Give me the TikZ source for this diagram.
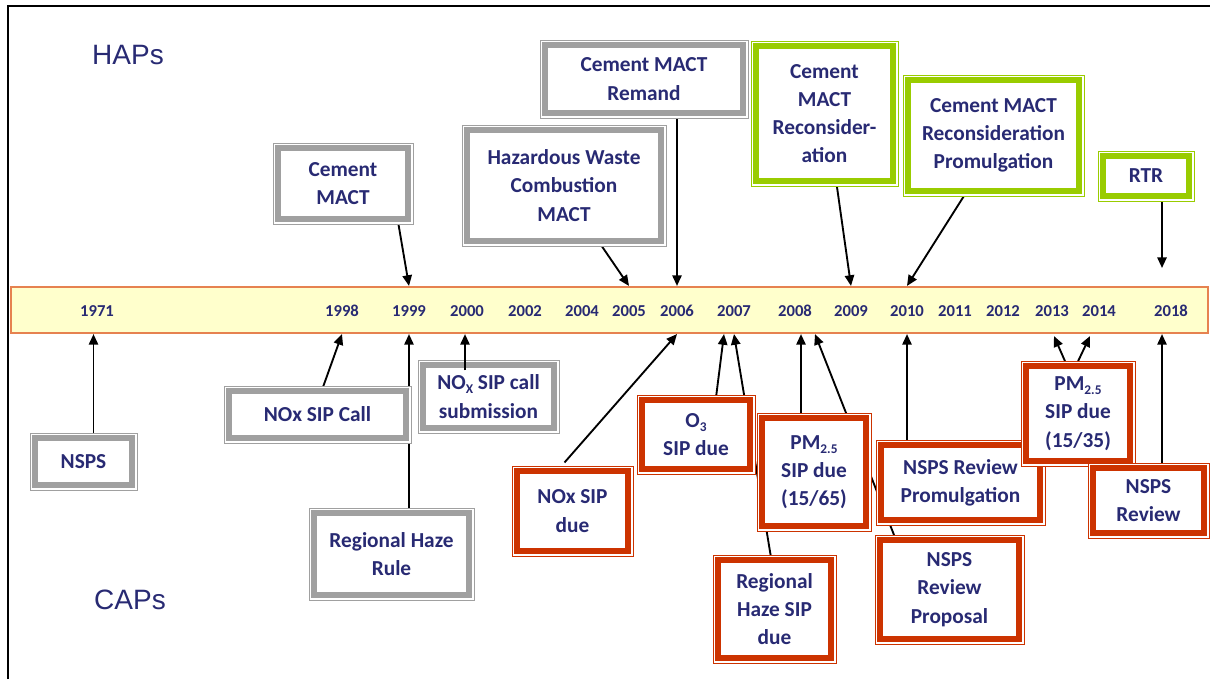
\documentclass[tikz,border=0pt]{standalone}
\usepackage{fontspec}
\setmainfont{Carlito}
\newfontfamily\arialf{Liberation Sans}
\usetikzlibrary{arrows.meta,calc}
\definecolor{navy}{RGB}{40,42,115}
\definecolor{gbox}{RGB}{160,160,160}
\definecolor{lbox}{RGB}{153,204,0}
\definecolor{rbox}{RGB}{204,51,0}
\definecolor{barfill}{RGB}{255,255,204}
\definecolor{barline}{RGB}{230,130,80}
\pgfdeclarelayer{barlayer}
\pgfdeclarelayer{connlayer}
\pgfdeclarelayer{toplayer}
\pgfsetlayers{barlayer,connlayer,main,toplayer}
\newcommand\mysub[1]{\raisebox{-0.4ex}{\fontsize{10}{10}\selectfont #1}}
\tikzset{
  boxnode/.style={line width=3.8pt, fill=white, inner sep=0pt, align=center, text=navy,
    font=\bfseries\fontsize{16}{21.2}\selectfont},
  outerline/.style={line width=0.7pt, fill=white},
  year/.style={text=navy, font=\bfseries\fontsize{12.5}{14}\selectfont},
  conn/.style={line width=1.4pt, -{Triangle[length=8pt,width=7pt]}},
  group/.style={text=navy, font=\arialf\fontsize{21}{25}\selectfont},
}
% name, colour, x1, y1, x2, y2, text
\newcommand\tlbox[7]{%
  \draw[outerline, draw=#2] (#3,#4) rectangle (#5,#6);
  \node[boxnode, draw=#2, minimum width={(#5-#3-10)*0.75pt}, minimum height={(#6-#4-10)*0.75pt}]
    (#1) at ({(#3+#5)/2},{(#4+#6)/2}) {#7};
}
\begin{document}
\begin{tikzpicture}[x=0.75pt, y=-0.75pt]
\useasboundingbox (0,0) rectangle (1210,679);
% frame
\draw[line width=1.5pt, black] (8,679) -- (8,6) -- (1210,6);
% group labels
\node[group] (haps) at (128,55) {HAPs};
\node[group] (caps) at (130,600) {CAPs};
% timeline bar
\begin{pgfonlayer}{barlayer}
\node[draw=barline, fill=barfill, line width=1.6pt, minimum width={1197*0.75pt}, minimum height={46*0.75pt}, inner sep=0pt] (bar) at (609.5,310) {};
\end{pgfonlayer}
\foreach \yr/\xx in {1971/97,1998/342,1999/409,2000/467,2002/525,2004/582,2005/629,2006/677,2007/734,2008/795,2009/851,2010/907,2011/955,2012/1003,2013/1052,2014/1099,2018/1171}
  \node[year] (y\yr) at (\xx,311) {\yr};
% HAP boxes
\tlbox{cm}{gbox}{273}{143}{413}{224}{Cement\\MACT}
\tlbox{hw}{gbox}{462}{125}{666}{246}{Hazardous Waste\\Combustion\\MACT}
\tlbox{rem}{gbox}{540}{40}{748}{118}{Cement MACT\\Remand}
\tlbox{recon}{lbox}{751}{41}{898}{186}{Cement\\MACT\\Reconsider-\\ation}
\tlbox{prom}{lbox}{903}{75}{1084}{196}{Cement MACT\\Reconsideration\\Promulgation}
\tlbox{rtr}{lbox}{1098}{151}{1194}{201}{RTR}
% CAP boxes
\tlbox{nsps}{gbox}{30}{433}{137}{490}{NSPS}
\tlbox{noxcall}{gbox}{224}{386}{411}{443}{NOx SIP Call}
\tlbox{noxsub}{gbox}{418}{360}{559}{433}{NO\mysub{X} SIP call\\submission}
\tlbox{rhr}{gbox}{309}{508}{474}{600}{Regional Haze\\Rule}
\tlbox{noxdue}{rbox}{512}{466}{633}{556}{NOx SIP\\due}
\tlbox{o3}{rbox}{637}{395}{755}{474}{O\mysub{3}\\SIP due}
\tlbox{pm65}{rbox}{757}{413}{871}{531}{PM\mysub{2.5}\\SIP due\\(15/65)}
\tlbox{rhsip}{rbox}{713}{555}{836}{663}{Regional\\Haze SIP\\due}
\tlbox{prom2}{rbox}{876}{440}{1045}{525}{NSPS Review\\Promulgation}
\tlbox{pm35}{rbox}{1021}{361}{1135}{466}{PM\mysub{2.5}\\SIP due\\(15/35)}
\tlbox{nspsrev}{rbox}{1088}{463}{1209}{538}{NSPS\\Review}
\tlbox{nspsprop}{rbox}{875}{535}{1024}{644}{NSPS\\Review\\Proposal}
% connectors (behind the boxes)
\coordinate (rtrend) at (1162,268);
\coordinate (nspsx) at ($(nsps.north)+(10,0)$);
\coordinate (pmx) at ($(pm65.north)+(-13,0)$);
\coordinate (pmy) at ($(y2008 |- bar.south)+(20,0)$);
\coordinate (o3x) at ($(y2007 |- bar.south)+(-10,0)$);
\begin{pgfonlayer}{connlayer}
\draw[conn] ($(cm.south)+(55,0)$) -- (y1999 |- bar.north);
\draw[conn] ($(hw.south)+(36,0)$) -- (y2005 |- bar.north);
\draw[conn] (y2006 |- rem.south) -- (y2006 |- bar.north);
\draw[conn] ($(recon.south)+(12,0)$) -- (y2009 |- bar.north);
\draw[conn] ($(prom.south)+(-28,0)$) -- (y2010 |- bar.north);
\draw[conn] (rtrend |- rtr.south) -- (rtrend);
\draw[conn] (nspsx) -- (nspsx |- bar.south);
\draw[conn] ($(noxcall.north)+(5,0)$) -- (y1998 |- bar.south);
\draw[conn] (y1999 |- rhr.north) -- (y1999 |- bar.south);
\draw[conn] ($(noxdue.north)+(-8,-6)$) -- (y2006 |- bar.south);
\draw[conn] ($(o3.north)+(20,0)$) -- (o3x);
\draw[conn] ($(rhsip.north)+(-3.5,0)$) -- (y2007 |- bar.south);
\draw[conn] (pmx) -- (pmx |- bar.south);
\draw[conn] ($(nspsprop.north)+(-54.5,0)$) -- (pmy);
\draw[conn] (y2010 |- prom2.north) -- (y2010 |- bar.south);
\draw[conn] ($(pm35.north)+(-12,0)$) -- ($(y2013 |- bar.south)+(2,2)$);
\draw[conn] ($(pm35.north)+(-1,0)$) -- ($(y2014 |- bar.south)+(-9,2)$);
\draw[conn] (rtrend |- nspsrev.north) -- (rtrend |- bar.south);
\end{pgfonlayer}
% the NOx submission arrow lies over its box
\begin{pgfonlayer}{toplayer}
\draw[conn] ($(noxsub.north)+(-23.5,8)$) -- ($(y2000 |- bar.south)+(-2,0)$);
\end{pgfonlayer}
\end{tikzpicture}
\end{document}
